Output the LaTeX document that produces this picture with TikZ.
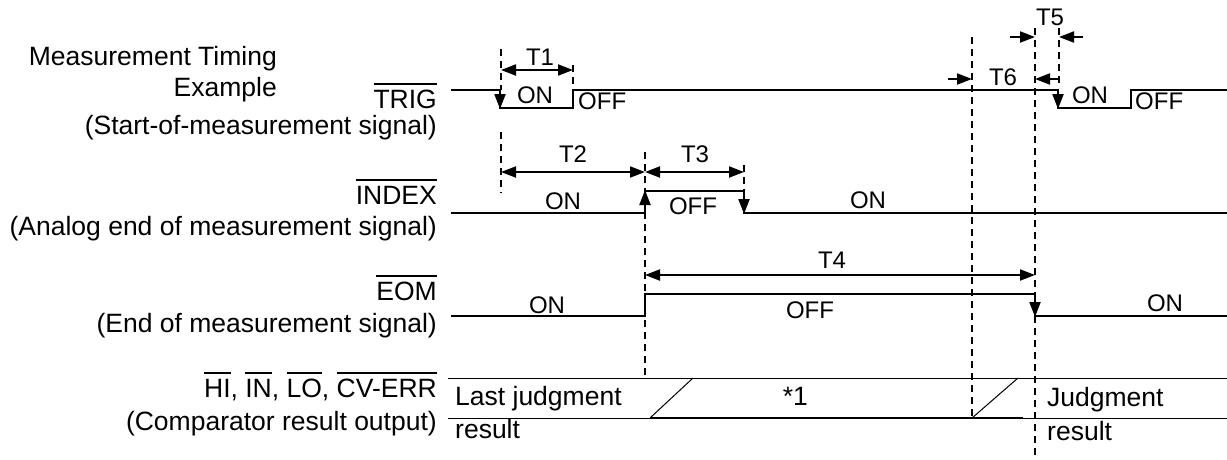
\documentclass[tikz,border=0pt]{standalone}
\usepackage{fontspec}
\setmainfont{Liberation Sans}
\usetikzlibrary{arrows.meta}

% overlined signal name
\newcommand\barsig[1]{\setbox0=\hbox{#1}\rlap{\rule[\dimexpr\ht0+5pt\relax]{\wd0}{1.8pt}}\box0}

\begin{document}
\begin{tikzpicture}[x=1pt, y=-1pt,
    sig/.style={line width=2pt},
    tip/.style={sig, -{Triangle[length=15pt,width=11pt]}},
    span/.style={sig, {Triangle[length=15pt,width=11pt]}-{Triangle[length=15pt,width=11pt]}},
    guide/.style={line width=1.8pt, dash pattern=on 7pt off 5pt},
    band/.style={line width=1pt},
    lbl/.style={inner sep=0pt, font=\fontsize{26.5}{31}\selectfont},
    lvl/.style={inner sep=0pt, font=\fontsize{24}{28}\selectfont}]
    \useasboundingbox (0,0) rectangle (1227,459);

    % signal names
    \node[lbl, anchor=base east] (title1) at (277,65) {Measurement Timing};
    \node[lbl, anchor=base east] (title2) at (277,96) {Example};
    \node[lbl, anchor=base east] (trig) at (437,108) {\barsig{TRIG}};
    \node[lbl, anchor=base east] (trigtxt) at (437,134) {(Start-of-measurement signal)};
    \node[lbl, anchor=base east] (index) at (437,204) {\barsig{INDEX}};
    \node[lbl, anchor=base east] (indextxt) at (437,235) {(Analog end of measurement signal)};
    \node[lbl, anchor=base east] (eom) at (437,300) {\barsig{EOM}};
    \node[lbl, anchor=base east] (eomtxt) at (437,332) {(End of measurement signal)};
    \node[lbl, anchor=base east] (comp) at (437,397) {\barsig{HI}, \barsig{IN}, \barsig{LO}, \barsig{CV-ERR}};
    \node[lbl, anchor=base east] (comptxt) at (437,430) {(Comparator result output)};

    % TRIG
    \draw[sig] (451,90) -- (500,90) -- (500,108) -- (573,108) -- (573,90) -- (1058,90)
        -- (1058,108) -- (1131,108) -- (1131,90) -- (1227,90);
    \draw[tip] (500,90) -- (500,109);
    \draw[tip] (1058,90) -- (1058,109);
    \node[lvl, anchor=base] (trigon1) at (535,103) {ON};
    \node[lvl, anchor=base west] (trigoff1) at (578,109) {OFF};
    \node[lvl, anchor=base] (trigon2) at (1090,103) {ON};
    \node[lvl, anchor=base west] (trigoff2) at (1135,109) {OFF};

    % INDEX
    \draw[sig] (451,213) -- (645,213) -- (645,191) -- (744,191) -- (744,213) -- (1227,213);
    \draw[tip] (645,213) -- (645,190);
    \draw[tip] (744,191) -- (744,214);
    \node[lvl, anchor=base] (indexon1) at (563,209) {ON};
    \node[lvl, anchor=base] (indexoff) at (693,214) {OFF};
    \node[lvl, anchor=base] (indexon2) at (868,208) {ON};

    % EOM
    \draw[sig] (451,316) -- (645,316) -- (645,294) -- (1035,294) -- (1035,316) -- (1227,316);
    \draw[tip] (1035,294) -- (1035,317);
    \node[lvl, anchor=base] (eomon1) at (547,313) {ON};
    \node[lvl, anchor=base] (eomoff) at (810,318) {OFF};
    \node[lvl, anchor=base] (eomon2) at (1165,311) {ON};

    % comparator result
    \draw[band] (448,378) -- (1227,378);
    \draw[band] (448,418) -- (650,418);
    \draw[sig] (650,418) -- (1023,418);
    \draw[band] (1023,418) -- (1227,418);
    \draw[band] (650,418) -- (693,378);
    \draw[band] (972,418) -- (1018,378);
    \node[lbl, anchor=base west] (last1) at (455,405) {Last judgment};
    \node[lbl, anchor=base west] (last2) at (455,438) {result};
    \node[lbl, anchor=base east] (note) at (808,405) {*1};
    \node[lbl, anchor=base west] (judge1) at (1047,406) {Judgment};
    \node[lbl, anchor=base west] (judge2) at (1047,440) {result};

    % time marks
    \draw[guide] (501,49) -- (501,90);
    \draw[guide] (573,65) -- (573,90);
    \draw[guide] (501,132) -- (501,193);
    \draw[guide] (645,152) -- (645,377);
    \draw[guide] (744,165) -- (744,191);
    \draw[guide] (972,37) -- (972,418);
    \draw[guide] (1035,28) -- (1035,458);
    \draw[guide] (1059,28) -- (1059,88);

    % intervals
    \draw[span] (501,70) -- (573,70);
    \node[lvl, anchor=base] (t1) at (540,65) {T1};
    \draw[span] (501,172) -- (645,172);
    \node[lvl, anchor=base] (t2) at (573,162) {T2};
    \draw[span] (645,172) -- (744,172);
    \node[lvl, anchor=base] (t3) at (695,162) {T3};
    \draw[span] (645,275) -- (1035,275);
    \node[lvl, anchor=base] (t4) at (832,268) {T4};
    \draw[tip] (1010,37) -- (1035,37);
    \draw[tip] (1083,37) -- (1059,37);
    \node[lvl, anchor=base] (t5) at (1050,25) {T5};
    \draw[tip] (948,79) -- (972,79);
    \draw[tip] (1059,79) -- (1035,79);
    \node[lvl, anchor=base] (t6) at (1003,85) {T6};
\end{tikzpicture}
\end{document}
